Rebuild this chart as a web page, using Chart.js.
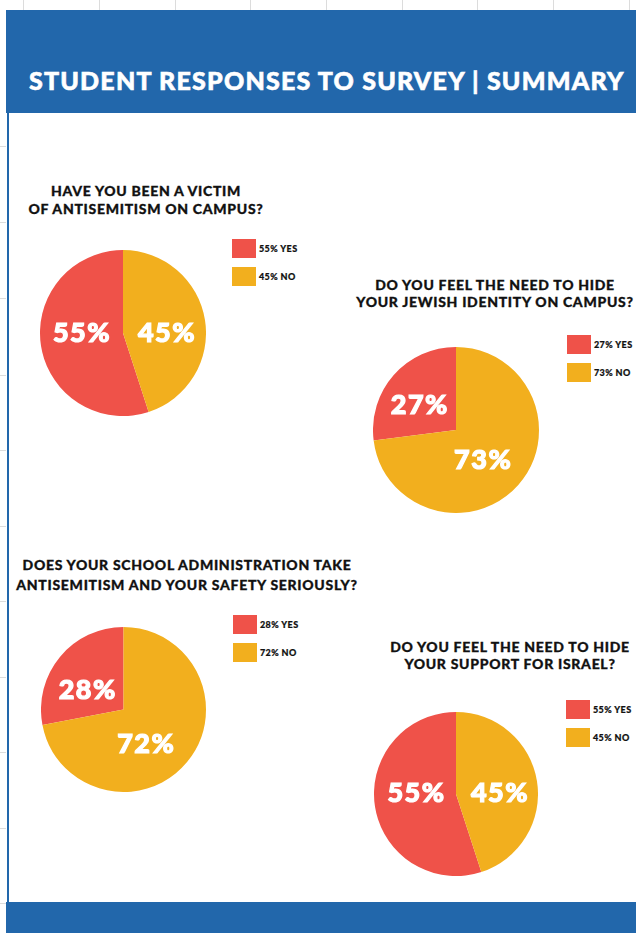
<!DOCTYPE html>
<html>
<head>
<meta charset="utf-8">
<title>Student Responses to Survey</title>
<script src="https://cdn.jsdelivr.net/npm/chart.js@4.4.1/dist/chart.umd.min.js"></script>
<style>
  body { margin: 0; width: 636px; height: 933px; position: relative; overflow: hidden; background: #fff; font-family: Lato, "Open Sans", sans-serif; }
  .band { position: absolute; left: 6px; right: 0; background: #2267ab; }
  .grid-v { position: absolute; top: 0; height: 10px; width: 1px; background: #dcdcdc; }
  .grid-h { position: absolute; left: 0; width: 6px; height: 1px; background: #dcdcdc; }
  .edge { position: absolute; left: 7px; top: 113px; width: 2px; height: 789px; background: #2267ab; }
  .heading { position: absolute; left: 29px; top: 63px; color: #fff; font-weight: 900; font-size: 25px; line-height: 34px; letter-spacing: 1.2px; -webkit-text-stroke: 0.6px #fff; white-space: nowrap; }
  .q { position: absolute; font-weight: 900; font-size: 14px; text-align: center; color: #111; white-space: nowrap; transform: translateX(-50%); letter-spacing: 0.7px; -webkit-text-stroke: 0.3px #111; }
  .legend { position: absolute; font-weight: 900; font-size: 9px; color: #111; letter-spacing: 0.4px; -webkit-text-stroke: 0.2px #111; }
  .legend .row { display: flex; align-items: center; height: 19px; margin-bottom: 9px; }
  .legend .box { width: 24px; height: 19px; margin-right: 3px; }
  canvas { position: absolute; }
</style>
</head>
<body>
<div class="band" style="top:10px;height:103px"></div>
<div class="band" style="top:902px;height:31px"></div>
<div class="edge"></div>
<div class="heading">STUDENT RESPONSES TO SURVEY | SUMMARY</div>

<script>
// survey questions and answers
const questions = [
  ["HAVE YOU BEEN A VICTIM", "OF ANTISEMITISM ON CAMPUS?"],
  ["DO YOU FEEL THE NEED TO HIDE", "YOUR JEWISH IDENTITY ON CAMPUS?"],
  ["DOES YOUR SCHOOL ADMINISTRATION TAKE", "ANTISEMITISM AND YOUR SAFETY SERIOUSLY?"],
  ["DO YOU FEEL THE NEED TO HIDE", "YOUR SUPPORT FOR ISRAEL?"]
];
const answers = ["YES", "NO"];
const yesPct = [55, 27, 28, 55];
const noPct = [45, 73, 72, 45];
const answerColors = ["#ef5249", "#f2af1e"];

// where each block sits on the sheet; nudge shifts the in-slice text
const blocks = [
  { cx: 123, cy: 333, r: 83, qx: 146, qy: 182, lh: 18.3, lx: 232, ly: 239, nudge: [[0, -6.5], [3, 6.5]] },
  { cx: 456, cy: 430, r: 83, qx: 495, qy: 276, lh: 17.3, lx: 567, ly: 335, nudge: [[-5, 2.5], [-4, 2.5]] },
  { cx: 123.5, cy: 709.5, r: 82.5, qx: 187, qy: 555, lh: 20, lx: 233, ly: 615, nudge: [[-4, 7], [-9, 9]] },
  { cx: 456, cy: 794, r: 82, qx: 510, qy: 638, lh: 17.3, lx: 566, ly: 700, nudge: [[1, -7], [3.5, 5.5]] }
];

// spreadsheet gridlines peeking out around the page
[23, 99, 175, 250, 326, 402, 477, 553, 629].forEach(x => {
  const d = document.createElement("div");
  d.className = "grid-v";
  d.style.left = x + "px";
  document.body.appendChild(d);
});
[146, 222, 298, 375, 450, 526, 601, 677, 752, 828, 903].forEach(y => {
  const d = document.createElement("div");
  d.className = "grid-h";
  d.style.top = y + "px";
  document.body.appendChild(d);
});

// percentage text inside each slice
const sliceText = {
  id: "sliceText",
  afterDatasetsDraw(chart, args, opts) {
    const ctx = chart.ctx;
    const values = chart.data.datasets[0].data;
    const nudge = opts.nudge || [];
    ctx.save();
    ctx.fillStyle = "#fff";
    ctx.strokeStyle = "#fff";
    ctx.lineWidth = 1.2;
    ctx.font = "900 27px Lato, 'Open Sans', sans-serif";
    ctx.letterSpacing = "1.5px";
    ctx.textAlign = "center";
    ctx.textBaseline = "middle";
    chart.getDatasetMeta(0).data.forEach((arc, i) => {
      const p = arc.tooltipPosition();
      const [dx, dy] = nudge[i] || [0, 0];
      const txt = values[i] + "%";
      ctx.fillText(txt, p.x + dx, p.y + dy);
      ctx.strokeText(txt, p.x + dx, p.y + dy);
    });
    ctx.restore();
  }
};

blocks.forEach((b, i) => {
  const vals = [yesPct[i], noPct[i]];

  const q = document.createElement("div");
  q.className = "q";
  q.style.left = b.qx + "px";
  q.style.top = b.qy + "px";
  q.style.lineHeight = b.lh + "px";
  q.innerHTML = questions[i].join("<br>");
  document.body.appendChild(q);

  const lg = document.createElement("div");
  lg.className = "legend";
  lg.style.left = b.lx + "px";
  lg.style.top = b.ly + "px";
  answers.forEach((a, k) => {
    const row = document.createElement("div");
    row.className = "row";
    row.innerHTML = `<span class="box" style="background:${answerColors[k]}"></span>${vals[k]}% ${a}`;
    lg.appendChild(row);
  });
  document.body.appendChild(lg);

  const size = Math.round(b.r * 2);
  const cv = document.createElement("canvas");
  cv.width = size;
  cv.height = size;
  cv.style.left = (b.cx - b.r) + "px";
  cv.style.top = (b.cy - b.r) + "px";
  document.body.appendChild(cv);

  new Chart(cv, {
    type: "pie",
    data: {
      labels: answers,
      datasets: [{ data: vals, backgroundColor: answerColors, borderWidth: 0, hoverOffset: 0 }]
    },
    options: {
      responsive: false,
      animation: false,
      rotation: -vals[0] * 3.6, // YES slice ends at 12 o'clock
      layout: { padding: 0 },
      plugins: {
        legend: { display: false },
        tooltip: { enabled: false },
        sliceText: { nudge: b.nudge }
      }
    },
    plugins: [sliceText]
  });
});
</script>
</body>
</html>
